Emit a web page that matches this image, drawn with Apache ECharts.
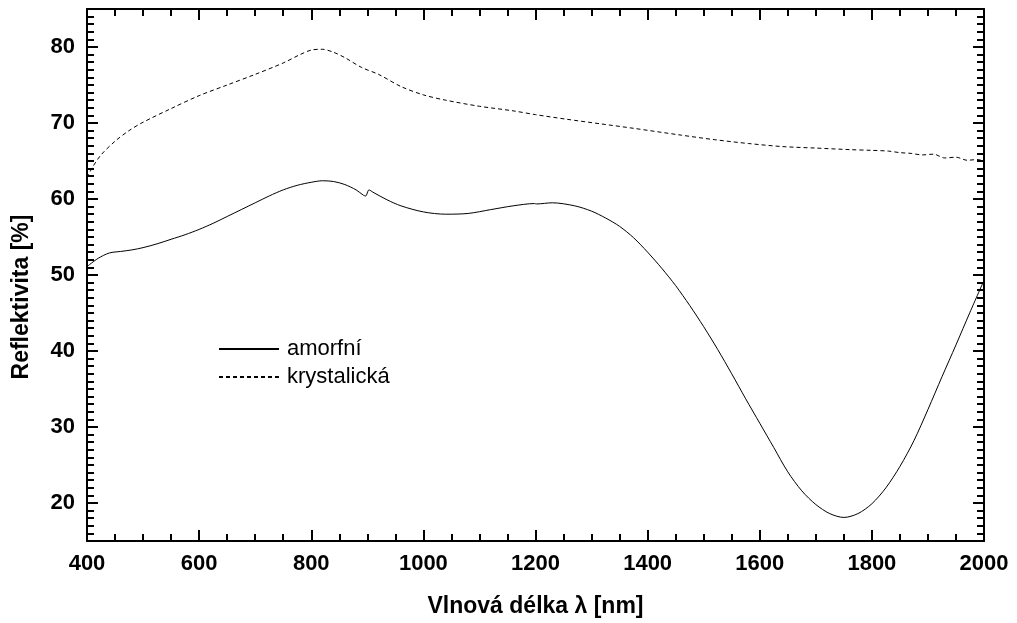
<!DOCTYPE html>
<html>
<head>
<meta charset="utf-8">
<script src="https://cdn.jsdelivr.net/npm/echarts@6/dist/echarts.min.js"></script>
<style>
  html, body { margin: 0; padding: 0; background: #fff; }
  #chart { width: 1017px; height: 623px; }
</style>
</head>
<body>
<div id="chart"></div>
<script>
// amorfni - wavelength [nm] / reflectivity [%]
const amorfWl = [400, 420, 440, 460, 480, 500, 525, 550, 575, 600, 625, 650, 675, 700, 725, 750, 775, 800, 820, 840,
    860, 880, 893, 897, 903, 910, 935, 960, 1000, 1040, 1080, 1120, 1160, 1198, 1202, 1230, 1270, 1300, 1325, 1350,
    1375, 1400, 1425, 1450, 1475, 1500, 1525, 1550, 1575, 1600, 1625, 1650, 1675, 1700, 1725, 1750, 1775, 1800,
    1825, 1850, 1875, 1900, 1925, 1950, 1975, 2000];
const amorfVal = [51.1, 52.2, 52.9, 53.1, 53.3, 53.6, 54.1, 54.7, 55.3, 56.0, 56.8, 57.7, 58.6, 59.5, 60.4, 61.2, 61.8, 62.2, 62.4, 62.3,
    61.9, 61.2, 60.5, 60.4, 61.2, 60.9, 59.9, 59.1, 58.3, 58.0, 58.1, 58.6, 59.1, 59.4, 59.35, 59.5, 59.1, 58.4, 57.5, 56.4,
    54.9, 53.0, 50.9, 48.6, 46.0, 43.2, 40.2, 37.0, 33.7, 30.5, 27.3, 24.1, 21.6, 19.8, 18.6, 18.1, 18.6, 19.9,
    22.0, 24.8, 28.2, 32.3, 36.6, 40.8, 45.1, 49.3];

// krystalicka
const krystWl = [400, 410, 425, 450, 475, 500, 550, 600, 650, 700, 750, 780, 800, 820, 840, 860, 890, 920, 960, 1000,
    1040, 1100, 1160, 1200, 1255, 1315, 1375, 1460, 1520, 1580, 1640, 1700, 1760, 1800, 1830, 1850, 1870, 1890, 1910,
    1930, 1950, 1970, 1990, 2000];
const krystVal = [62.8, 64.2, 65.8, 67.6, 69.0, 70.1, 71.9, 73.6, 75.0, 76.4, 77.9, 79.0, 79.6, 79.7, 79.3, 78.6, 77.3, 76.4, 74.8, 73.7,
    73.0, 72.2, 71.6, 71.1, 70.5, 69.9, 69.3, 68.4, 67.8, 67.3, 66.9, 66.7, 66.5, 66.4, 66.3, 66.1, 66.0, 65.8, 65.9,
    65.4, 65.5, 65.1, 65.2, 64.9];

const seriesNames = ['amorfní', 'krystalická'];
const yMajor = [20, 30, 40, 50, 60, 70, 80];

const FONT = "'Liberation Sans', Arial, sans-serif";
const tickFont = { color: '#000', fontSize: 22, fontWeight: 'bold', fontFamily: FONT };

function pairs(xs, ys) {
    return xs.map((x, i) => [x, ys[i]]);
}

function xAxisCfg(pos, showLabel) {
    return {
        type: 'value',
        position: pos,
        min: 400,
        max: 2000,
        interval: 200,
        axisLine: { show: true, onZero: false, lineStyle: { color: '#000', width: 2 } },
        axisTick: { show: true, inside: true, length: 11, lineStyle: { color: '#000', width: 2 } },
        minorTick: { show: true, splitNumber: 4, length: 7, lineStyle: { color: '#000', width: 2 } },
        axisLabel: Object.assign({ show: showLabel, margin: 12, formatter: v => String(v) }, tickFont),
        splitLine: { show: false }
    };
}

function yMajorCfg(pos, showLabel) {
    return {
        type: 'value',
        position: pos,
        min: 15,
        max: 85,
        axisLine: { show: true, onZero: false, lineStyle: { color: '#000', width: 2 } },
        axisTick: { show: true, inside: true, length: 11, customValues: yMajor, lineStyle: { color: '#000', width: 2 } },
        axisLabel: Object.assign({ show: showLabel, margin: 12, customValues: yMajor }, tickFont),
        splitLine: { show: false }
    };
}

function yMinorCfg(pos) {
    return {
        type: 'value',
        position: pos,
        min: 15,
        max: 85,
        interval: 1,
        axisLine: { show: false },
        axisTick: { show: true, inside: true, length: 7, lineStyle: { color: '#000', width: 2 } },
        axisLabel: { show: false },
        splitLine: { show: false }
    };
}

const chart = echarts.init(document.getElementById('chart'));

const bottomX = xAxisCfg('bottom', true);
bottomX.name = 'Vlnová délka λ [nm]';
bottomX.nameLocation = 'middle';
bottomX.nameGap = 54;
bottomX.nameTextStyle = Object.assign({}, tickFont, { fontSize: 23 });

const leftY = yMajorCfg('left', true);
leftY.name = 'Reflektivita [%]';
leftY.nameLocation = 'middle';
leftY.nameGap = 54;
// nudge the rotated title a bit lower, like in the original plot
leftY.nameTextStyle = Object.assign({}, tickFont, { fontSize: 23, padding: [0, 44, 0, 0] });

chart.setOption({
    animation: false,
    backgroundColor: '#fff',
    grid: { left: 87, right: 33, top: 9, bottom: 82, containLabel: false },
    legend: {
        orient: 'vertical',
        left: 213,
        top: 333,
        itemWidth: 60,
        itemHeight: 18,
        itemGap: 6,
        data: seriesNames,
        itemStyle: { opacity: 0 },
        textStyle: { color: '#000', fontSize: 22, fontFamily: FONT, padding: [0, 0, 0, 3] }
    },
    xAxis: [bottomX, xAxisCfg('top', false)],
    yAxis: [leftY, yMinorCfg('left'), yMajorCfg('right', false), yMinorCfg('right')],
    series: [
        {
            name: seriesNames[0],
            type: 'line',
            data: pairs(amorfWl, amorfVal),
            symbol: 'none',
            smooth: 0.3,
            lineStyle: { color: '#000', width: 1 },
            itemStyle: { color: '#000' }
        },
        {
            name: seriesNames[1],
            type: 'line',
            data: pairs(krystWl, krystVal),
            symbol: 'none',
            smooth: 0.3,
            lineStyle: { color: '#000', width: 1, type: [4, 3] },
            itemStyle: { color: '#000' }
        }
    ]
});
</script>
</body>
</html>
